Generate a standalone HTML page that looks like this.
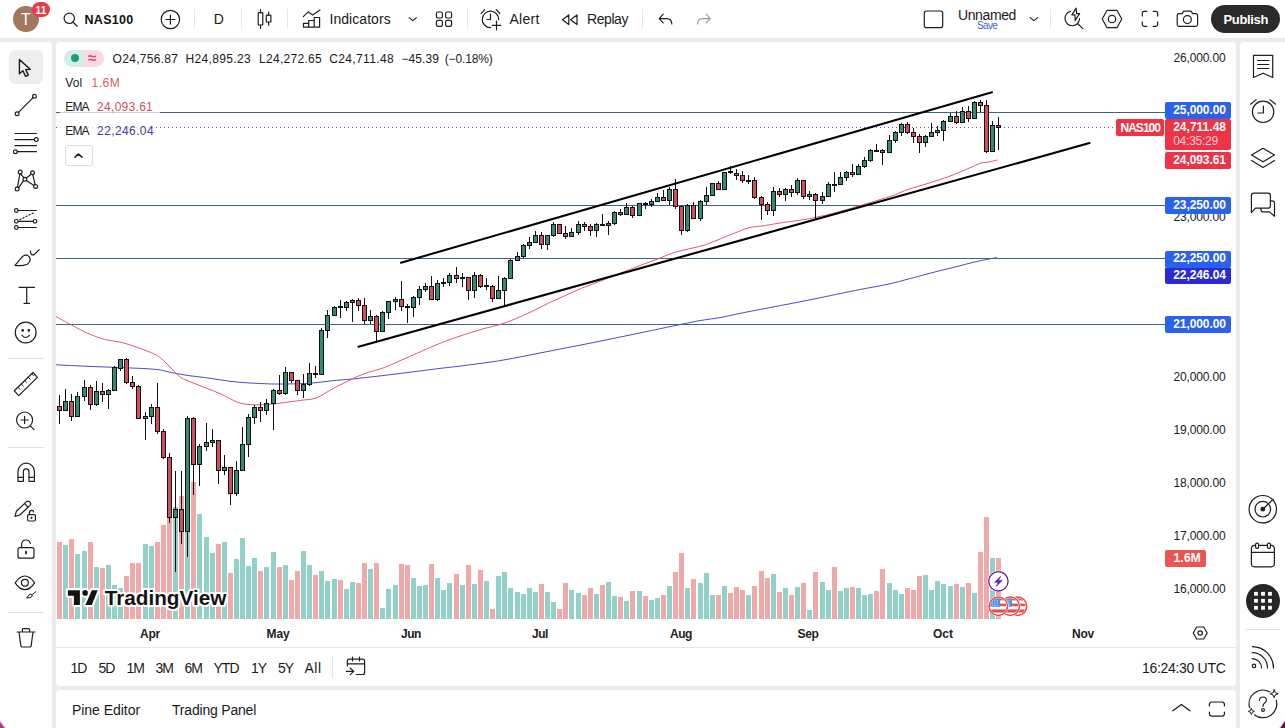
<!DOCTYPE html>
<html><head><meta charset="utf-8"><title>NAS100</title>
<style>
*{box-sizing:border-box;margin:0;padding:0}
html,body{width:1285px;height:728px;overflow:hidden;background:#ebebeb;font-family:"Liberation Sans",sans-serif;color:#131722}
.p{position:absolute;background:#fff}
.t{position:absolute;white-space:nowrap;line-height:1}
svg{position:absolute;left:0;top:0;overflow:visible}
.ic{fill:none;stroke:#1e1e1e;stroke-width:1.2;stroke-linecap:round;stroke-linejoin:round}
.sep{position:absolute;width:1px;background:#e6e6e6}
.hsep{position:absolute;height:1px;background:#e0e0e0}
.ax{font-size:12px;color:#1a1a1a}
.lb{position:absolute;z-index:2;color:#fff;font-size:12px;font-weight:bold;border-radius:2px;left:1165px;width:66px;padding-left:8px;white-space:nowrap}
</style></head><body>
<!-- panels -->
<div class="p" style="left:0;top:0;width:1285px;height:38px"></div>
<div class="p" style="left:0;top:42px;width:52px;height:686px;border-top-right-radius:4px"></div>
<div class="p" style="left:56px;top:42px;width:1180.4px;height:644px;border-radius:4px"></div>
<div class="p" style="left:56px;top:690.3px;width:1180.4px;height:38px;border-radius:4px 4px 0 0"></div>
<div class="p" style="left:1240.4px;top:42px;width:45px;height:686px;border-top-left-radius:4px"></div>

<!-- CHART SVG -->
<svg width="1285" height="728" viewBox="0 0 1285 728" shape-rendering="auto">
<g shape-rendering="crispEdges">
<rect x="57" y="542.0" width="5" height="77.0" fill="#f0a9a9"/>
<rect x="63" y="545.0" width="5" height="74.0" fill="#92d0ca"/>
<rect x="69" y="539.1" width="5" height="79.9" fill="#f0a9a9"/>
<rect x="75" y="554.1" width="5" height="64.9" fill="#92d0ca"/>
<rect x="82" y="551.1" width="5" height="67.9" fill="#92d0ca"/>
<rect x="88" y="542.0" width="5" height="77.0" fill="#f0a9a9"/>
<rect x="94" y="567.3" width="5" height="51.7" fill="#92d0ca"/>
<rect x="100" y="568.1" width="5" height="50.9" fill="#f0a9a9"/>
<rect x="106" y="565.1" width="5" height="53.9" fill="#92d0ca"/>
<rect x="112" y="585.2" width="5" height="33.8" fill="#92d0ca"/>
<rect x="118" y="588.2" width="5" height="30.8" fill="#92d0ca"/>
<rect x="124" y="576.2" width="5" height="42.8" fill="#f0a9a9"/>
<rect x="130" y="563.1" width="5" height="55.9" fill="#f0a9a9"/>
<rect x="136" y="563.1" width="5" height="55.9" fill="#f0a9a9"/>
<rect x="143" y="544.2" width="5" height="74.8" fill="#92d0ca"/>
<rect x="149" y="546.2" width="5" height="72.8" fill="#92d0ca"/>
<rect x="155" y="542.0" width="5" height="77.0" fill="#f0a9a9"/>
<rect x="161" y="525.1" width="5" height="93.9" fill="#f0a9a9"/>
<rect x="167" y="505.0" width="5" height="114.0" fill="#f0a9a9"/>
<rect x="173" y="507.0" width="5" height="112.0" fill="#92d0ca"/>
<rect x="179" y="496.0" width="5" height="123.0" fill="#f0a9a9"/>
<rect x="185" y="510.0" width="5" height="109.0" fill="#92d0ca"/>
<rect x="191" y="482.0" width="5" height="137.0" fill="#f0a9a9"/>
<rect x="197" y="514.3" width="5" height="104.7" fill="#92d0ca"/>
<rect x="204" y="537.4" width="5" height="81.6" fill="#92d0ca"/>
<rect x="210" y="553.1" width="5" height="65.9" fill="#92d0ca"/>
<rect x="216" y="544.2" width="5" height="74.8" fill="#f0a9a9"/>
<rect x="222" y="542.0" width="5" height="77.0" fill="#92d0ca"/>
<rect x="228" y="573.0" width="5" height="46.0" fill="#f0a9a9"/>
<rect x="234" y="559.0" width="5" height="60.0" fill="#92d0ca"/>
<rect x="240" y="538.3" width="5" height="80.7" fill="#92d0ca"/>
<rect x="246" y="566.0" width="5" height="53.0" fill="#92d0ca"/>
<rect x="252" y="558.0" width="5" height="61.0" fill="#92d0ca"/>
<rect x="258" y="570.9" width="5" height="48.1" fill="#f0a9a9"/>
<rect x="264" y="566.9" width="5" height="52.1" fill="#92d0ca"/>
<rect x="271" y="552.2" width="5" height="66.8" fill="#92d0ca"/>
<rect x="277" y="566.9" width="5" height="52.1" fill="#f0a9a9"/>
<rect x="283" y="565.0" width="5" height="54.0" fill="#92d0ca"/>
<rect x="289" y="579.7" width="5" height="39.3" fill="#f0a9a9"/>
<rect x="295" y="570.9" width="5" height="48.1" fill="#f0a9a9"/>
<rect x="301" y="551.0" width="5" height="68.0" fill="#92d0ca"/>
<rect x="307" y="565.0" width="5" height="54.0" fill="#92d0ca"/>
<rect x="313" y="575.1" width="5" height="43.9" fill="#f0a9a9"/>
<rect x="319" y="570.9" width="5" height="48.1" fill="#92d0ca"/>
<rect x="325" y="580.9" width="5" height="38.1" fill="#92d0ca"/>
<rect x="332" y="579.0" width="5" height="40.0" fill="#92d0ca"/>
<rect x="338" y="579.7" width="5" height="39.3" fill="#f0a9a9"/>
<rect x="344" y="588.8" width="5" height="30.2" fill="#92d0ca"/>
<rect x="350" y="581.8" width="5" height="37.2" fill="#92d0ca"/>
<rect x="356" y="583.0" width="5" height="36.0" fill="#f0a9a9"/>
<rect x="362" y="563.2" width="5" height="55.8" fill="#f0a9a9"/>
<rect x="368" y="569.0" width="5" height="50.0" fill="#92d0ca"/>
<rect x="374" y="563.2" width="5" height="55.8" fill="#f0a9a9"/>
<rect x="380" y="608.2" width="5" height="10.8" fill="#92d0ca"/>
<rect x="386" y="588.8" width="5" height="30.2" fill="#92d0ca"/>
<rect x="393" y="584.9" width="5" height="34.1" fill="#92d0ca"/>
<rect x="399" y="564.3" width="5" height="54.7" fill="#f0a9a9"/>
<rect x="405" y="565.0" width="5" height="54.0" fill="#f0a9a9"/>
<rect x="411" y="577.9" width="5" height="41.1" fill="#92d0ca"/>
<rect x="417" y="586.0" width="5" height="33.0" fill="#92d0ca"/>
<rect x="423" y="584.9" width="5" height="34.1" fill="#92d0ca"/>
<rect x="429" y="564.3" width="5" height="54.7" fill="#f0a9a9"/>
<rect x="435" y="577.9" width="5" height="41.1" fill="#92d0ca"/>
<rect x="441" y="590.0" width="5" height="29.0" fill="#92d0ca"/>
<rect x="447" y="583.0" width="5" height="36.0" fill="#92d0ca"/>
<rect x="454" y="573.9" width="5" height="45.1" fill="#f0a9a9"/>
<rect x="460" y="584.9" width="5" height="34.1" fill="#92d0ca"/>
<rect x="466" y="565.0" width="5" height="54.0" fill="#f0a9a9"/>
<rect x="472" y="584.2" width="5" height="34.8" fill="#92d0ca"/>
<rect x="478" y="570.2" width="5" height="48.8" fill="#f0a9a9"/>
<rect x="484" y="580.9" width="5" height="38.1" fill="#92d0ca"/>
<rect x="490" y="608.9" width="5" height="10.1" fill="#f0a9a9"/>
<rect x="496" y="576.0" width="5" height="43.0" fill="#92d0ca"/>
<rect x="502" y="572.0" width="5" height="47.0" fill="#92d0ca"/>
<rect x="508" y="587.9" width="5" height="31.1" fill="#92d0ca"/>
<rect x="515" y="591.9" width="5" height="27.1" fill="#92d0ca"/>
<rect x="521" y="593.7" width="5" height="25.3" fill="#92d0ca"/>
<rect x="527" y="587.9" width="5" height="31.1" fill="#92d0ca"/>
<rect x="533" y="591.9" width="5" height="27.1" fill="#92d0ca"/>
<rect x="539" y="584.2" width="5" height="34.8" fill="#f0a9a9"/>
<rect x="545" y="591.9" width="5" height="27.1" fill="#92d0ca"/>
<rect x="551" y="601.9" width="5" height="17.1" fill="#92d0ca"/>
<rect x="557" y="608.9" width="5" height="10.1" fill="#f0a9a9"/>
<rect x="563" y="583.0" width="5" height="36.0" fill="#f0a9a9"/>
<rect x="569" y="590.0" width="5" height="29.0" fill="#92d0ca"/>
<rect x="576" y="593.0" width="5" height="26.0" fill="#92d0ca"/>
<rect x="582" y="594.9" width="5" height="24.1" fill="#f0a9a9"/>
<rect x="588" y="587.9" width="5" height="31.1" fill="#f0a9a9"/>
<rect x="594" y="593.7" width="5" height="25.3" fill="#92d0ca"/>
<rect x="600" y="584.9" width="5" height="34.1" fill="#f0a9a9"/>
<rect x="606" y="581.8" width="5" height="37.2" fill="#92d0ca"/>
<rect x="612" y="596.1" width="5" height="22.9" fill="#92d0ca"/>
<rect x="618" y="597.0" width="5" height="22.0" fill="#f0a9a9"/>
<rect x="624" y="600.7" width="5" height="18.3" fill="#92d0ca"/>
<rect x="630" y="590.9" width="5" height="28.1" fill="#f0a9a9"/>
<rect x="637" y="590.9" width="5" height="28.1" fill="#92d0ca"/>
<rect x="643" y="596.1" width="5" height="22.9" fill="#f0a9a9"/>
<rect x="649" y="599.8" width="5" height="19.2" fill="#92d0ca"/>
<rect x="655" y="597.9" width="5" height="21.1" fill="#92d0ca"/>
<rect x="661" y="594.9" width="5" height="24.1" fill="#f0a9a9"/>
<rect x="667" y="586.0" width="5" height="33.0" fill="#92d0ca"/>
<rect x="673" y="572.0" width="5" height="47.0" fill="#f0a9a9"/>
<rect x="679" y="552.9" width="5" height="66.1" fill="#f0a9a9"/>
<rect x="685" y="587.9" width="5" height="31.1" fill="#92d0ca"/>
<rect x="691" y="579.0" width="5" height="40.0" fill="#f0a9a9"/>
<rect x="698" y="583.0" width="5" height="36.0" fill="#92d0ca"/>
<rect x="704" y="573.0" width="5" height="46.0" fill="#92d0ca"/>
<rect x="710" y="594.9" width="5" height="24.1" fill="#92d0ca"/>
<rect x="716" y="594.9" width="5" height="24.1" fill="#f0a9a9"/>
<rect x="722" y="586.0" width="5" height="33.0" fill="#92d0ca"/>
<rect x="728" y="593.0" width="5" height="26.0" fill="#f0a9a9"/>
<rect x="734" y="587.0" width="5" height="32.0" fill="#f0a9a9"/>
<rect x="740" y="590.0" width="5" height="29.0" fill="#f0a9a9"/>
<rect x="746" y="594.9" width="5" height="24.1" fill="#92d0ca"/>
<rect x="752" y="586.0" width="5" height="33.0" fill="#f0a9a9"/>
<rect x="759" y="570.9" width="5" height="48.1" fill="#f0a9a9"/>
<rect x="765" y="577.9" width="5" height="41.1" fill="#f0a9a9"/>
<rect x="771" y="573.9" width="5" height="45.1" fill="#92d0ca"/>
<rect x="777" y="591.9" width="5" height="27.1" fill="#f0a9a9"/>
<rect x="783" y="587.9" width="5" height="31.1" fill="#92d0ca"/>
<rect x="789" y="594.9" width="5" height="24.1" fill="#f0a9a9"/>
<rect x="795" y="587.0" width="5" height="32.0" fill="#92d0ca"/>
<rect x="801" y="583.0" width="5" height="36.0" fill="#f0a9a9"/>
<rect x="807" y="609.9" width="5" height="9.1" fill="#92d0ca"/>
<rect x="813" y="572.0" width="5" height="47.0" fill="#f0a9a9"/>
<rect x="820" y="581.8" width="5" height="37.2" fill="#92d0ca"/>
<rect x="826" y="590.0" width="5" height="29.0" fill="#92d0ca"/>
<rect x="832" y="567.0" width="5" height="52.0" fill="#f0a9a9"/>
<rect x="838" y="590.9" width="5" height="28.1" fill="#92d0ca"/>
<rect x="844" y="588.1" width="5" height="30.9" fill="#92d0ca"/>
<rect x="850" y="587.2" width="5" height="31.8" fill="#f0a9a9"/>
<rect x="856" y="588.1" width="5" height="30.9" fill="#92d0ca"/>
<rect x="862" y="595.0" width="5" height="24.0" fill="#92d0ca"/>
<rect x="868" y="594.1" width="5" height="24.9" fill="#92d0ca"/>
<rect x="874" y="590.9" width="5" height="28.1" fill="#f0a9a9"/>
<rect x="880" y="569.1" width="5" height="49.9" fill="#f0a9a9"/>
<rect x="887" y="583.1" width="5" height="35.9" fill="#92d0ca"/>
<rect x="893" y="590.0" width="5" height="29.0" fill="#92d0ca"/>
<rect x="899" y="594.1" width="5" height="24.9" fill="#92d0ca"/>
<rect x="905" y="588.1" width="5" height="30.9" fill="#f0a9a9"/>
<rect x="911" y="590.0" width="5" height="29.0" fill="#f0a9a9"/>
<rect x="917" y="576.0" width="5" height="43.0" fill="#f0a9a9"/>
<rect x="923" y="575.0" width="5" height="44.0" fill="#92d0ca"/>
<rect x="929" y="590.0" width="5" height="29.0" fill="#92d0ca"/>
<rect x="935" y="581.0" width="5" height="38.0" fill="#92d0ca"/>
<rect x="941" y="584.0" width="5" height="35.0" fill="#92d0ca"/>
<rect x="948" y="585.9" width="5" height="33.1" fill="#92d0ca"/>
<rect x="954" y="584.0" width="5" height="35.0" fill="#f0a9a9"/>
<rect x="960" y="586.8" width="5" height="32.2" fill="#92d0ca"/>
<rect x="966" y="583.1" width="5" height="35.9" fill="#f0a9a9"/>
<rect x="972" y="593.0" width="5" height="26.0" fill="#92d0ca"/>
<rect x="978" y="552.1" width="5" height="66.9" fill="#f0a9a9"/>
<rect x="984" y="517.1" width="5" height="101.9" fill="#f0a9a9"/>
<rect x="990" y="558.2" width="5" height="60.8" fill="#92d0ca"/>
<rect x="996" y="558.2" width="5" height="60.8" fill="#f0a9a9"/>
</g>
<!-- horizontal lines -->
<g stroke="#3f6287" stroke-width="1" shape-rendering="crispEdges">
<path d="M56 112.5H1165"/><path d="M56 205.5H1165"/><path d="M56 258.5H1165"/><path d="M56 324.5H1165"/>
</g>
<path d="M56 127.5H1116" stroke="#b5443a" stroke-width="1" stroke-dasharray="1 3" shape-rendering="crispEdges"/>
<path d="M56.0 364.8C61.5 365.1 78.0 365.9 89.0 366.4C100.0 366.9 111.0 367.1 122.0 367.6C133.0 368.1 146.8 368.5 155.0 369.3C163.2 370.1 165.9 371.5 171.4 372.5C176.9 373.5 182.5 374.7 188.0 375.5C193.5 376.3 198.9 376.8 204.4 377.5C209.9 378.2 215.5 379.2 221.0 380.0C226.5 380.8 231.6 381.6 237.4 382.1C243.2 382.7 249.8 383.0 256.0 383.3C262.2 383.6 267.4 383.9 274.7 384.0C281.9 384.1 292.6 383.9 299.5 383.7C306.4 383.5 310.5 383.2 316.0 382.7C321.5 382.2 326.4 381.3 332.4 380.7C338.4 380.1 343.9 379.8 352.2 379.0C360.4 378.2 371.4 376.9 381.9 375.7C392.3 374.5 405.2 372.8 414.9 371.6C424.6 370.4 430.8 369.5 440.0 368.4C449.2 367.3 460.3 366.1 470.0 364.8C479.7 363.6 488.9 362.4 498.4 360.9C507.9 359.4 517.3 357.5 527.0 355.6C536.7 353.7 546.9 351.6 556.7 349.7C566.5 347.8 576.3 345.9 586.0 344.0C595.7 342.1 605.4 340.1 615.1 338.1C624.8 336.1 634.3 334.1 644.0 332.1C653.7 330.1 664.2 327.8 673.5 325.9C682.8 324.0 692.2 322.0 700.0 320.6C707.8 319.2 713.3 318.8 720.0 317.6C726.7 316.4 732.2 315.0 740.0 313.4C747.8 311.8 757.9 309.9 766.7 308.2C775.5 306.5 784.0 304.9 793.0 303.2C802.0 301.4 812.6 299.3 820.4 297.7C828.2 296.1 833.4 295.0 840.0 293.6C846.6 292.2 852.1 291.1 860.1 289.5C868.1 287.9 879.8 286.0 888.1 284.2C896.4 282.4 903.0 280.4 910.0 278.6C917.0 276.8 922.9 275.1 930.1 273.2C937.3 271.3 945.2 269.4 953.0 267.5C960.8 265.6 969.5 263.1 976.8 261.5C984.1 259.9 993.4 258.2 996.7 257.6" fill="none" stroke="#4f49c4" stroke-width="1"/>
<path d="M56.0 316.5C58.5 317.9 65.3 321.8 70.8 324.7C76.3 327.6 83.2 331.3 89.0 333.8C94.8 336.3 100.0 338.2 105.5 339.6C111.0 341.1 116.5 341.1 122.0 342.5C127.5 343.9 132.9 345.8 138.4 347.8C143.9 349.8 150.9 352.3 155.0 354.4C159.1 356.5 160.5 357.9 163.2 360.2C165.9 362.5 168.7 365.6 171.4 368.4C174.2 371.1 176.9 374.6 179.7 376.7C182.4 378.8 183.8 379.0 187.9 380.8C192.0 382.6 198.9 385.2 204.4 387.4C209.9 389.6 215.4 391.5 220.9 394.0C226.4 396.5 232.6 400.4 237.4 402.2C242.2 404.0 245.9 404.2 250.0 404.6C254.1 405.0 257.9 404.9 262.0 404.8C266.1 404.7 268.4 404.5 274.7 403.8C280.9 403.1 292.6 401.5 299.5 400.5C306.4 399.5 310.5 399.9 316.0 398.0C321.5 396.1 326.4 392.1 332.4 388.9C338.4 385.7 346.7 381.6 352.2 379.0C357.7 376.4 360.0 375.2 365.4 373.3C370.8 371.4 378.5 369.7 384.5 367.5C390.5 365.3 396.2 362.4 401.5 360.1C406.8 357.8 411.5 355.7 416.5 353.5C421.5 351.3 425.8 349.2 431.4 346.9C437.0 344.6 442.1 342.3 450.0 339.5C457.9 336.7 470.4 332.6 479.1 330.0C487.8 327.4 496.1 325.7 502.2 323.8C508.2 321.9 510.4 320.9 515.4 318.8C520.4 316.7 526.4 314.0 531.9 311.4C537.4 308.8 542.9 305.8 548.4 303.2C553.9 300.6 559.4 298.2 564.9 295.7C570.4 293.2 575.5 290.7 581.4 288.3C587.2 285.9 592.0 284.3 600.0 281.2C608.0 278.1 620.3 273.1 629.6 269.5C638.9 265.9 648.9 262.3 656.0 259.6C663.1 256.9 666.9 254.9 672.4 253.1C677.9 251.3 683.4 250.3 688.9 248.9C694.4 247.5 699.9 246.6 705.4 244.8C710.9 243.0 716.4 240.4 721.9 238.2C727.4 236.0 733.7 233.4 738.4 231.6C743.1 229.8 745.9 228.5 750.0 227.5C754.1 226.5 758.1 226.6 763.1 225.8C768.1 225.1 771.7 224.3 780.0 223.0C788.3 221.7 802.0 220.2 813.0 218.0C824.0 215.8 835.0 212.8 846.0 209.8C857.0 206.8 870.8 202.4 879.0 199.9C887.2 197.4 890.6 196.3 895.4 194.6C900.2 192.8 902.4 191.3 908.0 189.4C913.6 187.5 922.0 185.3 929.0 183.1C936.0 180.9 943.0 178.7 950.0 176.1C957.0 173.5 965.8 169.5 971.0 167.3C976.2 165.1 978.3 163.8 981.0 163.0C983.7 162.2 984.2 162.8 987.0 162.3C989.8 161.8 995.8 160.4 997.5 160.0" fill="none" stroke="#dc5c6b" stroke-width="1"/>
<g shape-rendering="crispEdges">
<path d="M59.5 395.3V423.6" stroke="#111" stroke-width="1"/>
<rect x="57.5" y="406.5" width="4" height="3.9" fill="#cf505d" stroke="#111" stroke-width="1"/>
<path d="M65.5 389.0V410.2" stroke="#111" stroke-width="1"/>
<rect x="63.5" y="401.5" width="4" height="8.7" fill="#378a72" stroke="#111" stroke-width="1"/>
<path d="M71.5 394.3V421.4" stroke="#111" stroke-width="1"/>
<rect x="69.5" y="401.5" width="4" height="14.7" fill="#cf505d" stroke="#111" stroke-width="1"/>
<path d="M77.5 392.3V416.2" stroke="#111" stroke-width="1"/>
<rect x="75.5" y="396.1" width="4" height="20.1" fill="#378a72" stroke="#111" stroke-width="1"/>
<path d="M84.5 380.3V401.4" stroke="#111" stroke-width="1"/>
<rect x="82.5" y="387.4" width="4" height="9.1" fill="#378a72" stroke="#111" stroke-width="1"/>
<path d="M90.5 385.4V409.6" stroke="#111" stroke-width="1"/>
<rect x="88.5" y="387.4" width="4" height="16.9" fill="#cf505d" stroke="#111" stroke-width="1"/>
<path d="M96.5 381.3V405.5" stroke="#111" stroke-width="1"/>
<rect x="94.5" y="391.2" width="4" height="13.1" fill="#378a72" stroke="#111" stroke-width="1"/>
<path d="M102.5 383.3V401.7" stroke="#111" stroke-width="1"/>
<rect x="100.5" y="391.2" width="4" height="3.3" fill="#cf505d" stroke="#111" stroke-width="1"/>
<path d="M108.5 389.0V408.7" stroke="#111" stroke-width="1"/>
<rect x="106.5" y="390.2" width="4" height="4.3" fill="#378a72" stroke="#111" stroke-width="1"/>
<path d="M114.5 366.3V390.4" stroke="#111" stroke-width="1"/>
<rect x="112.5" y="367.6" width="4" height="22.8" fill="#378a72" stroke="#111" stroke-width="1"/>
<path d="M120.5 359.4V370.6" stroke="#111" stroke-width="1"/>
<rect x="118.5" y="359.4" width="4" height="8.7" fill="#378a72" stroke="#111" stroke-width="1"/>
<path d="M126.5 358.2V383.6" stroke="#111" stroke-width="1"/>
<rect x="124.5" y="359.4" width="4" height="23.0" fill="#cf505d" stroke="#111" stroke-width="1"/>
<path d="M132.5 376.2V388.7" stroke="#111" stroke-width="1"/>
<rect x="130.5" y="382.4" width="4" height="4.2" fill="#cf505d" stroke="#111" stroke-width="1"/>
<path d="M138.5 385.4V418.2" stroke="#111" stroke-width="1"/>
<rect x="136.5" y="386.2" width="4" height="32.0" fill="#cf505d" stroke="#111" stroke-width="1"/>
<path d="M145.5 412.3V439.6" stroke="#111" stroke-width="1"/>
<rect x="143.5" y="416.6" width="4" height="1.6" fill="#378a72" stroke="#111" stroke-width="1"/>
<path d="M151.5 404.2V423.6" stroke="#111" stroke-width="1"/>
<rect x="149.5" y="407.3" width="4" height="9.3" fill="#378a72" stroke="#111" stroke-width="1"/>
<path d="M157.5 383.3V433.5" stroke="#111" stroke-width="1"/>
<rect x="155.5" y="407.3" width="4" height="24.0" fill="#cf505d" stroke="#111" stroke-width="1"/>
<path d="M163.5 429.3V458.5" stroke="#111" stroke-width="1"/>
<rect x="161.5" y="431.3" width="4" height="26.3" fill="#cf505d" stroke="#111" stroke-width="1"/>
<path d="M169.5 453.1V522.6" stroke="#111" stroke-width="1"/>
<rect x="167.5" y="457.6" width="4" height="59.6" fill="#cf505d" stroke="#111" stroke-width="1"/>
<path d="M175.5 471.2V571.7" stroke="#111" stroke-width="1"/>
<rect x="173.5" y="509.1" width="4" height="8.1" fill="#378a72" stroke="#111" stroke-width="1"/>
<path d="M181.5 471.2V543.7" stroke="#111" stroke-width="1"/>
<rect x="179.5" y="509.1" width="4" height="22.2" fill="#cf505d" stroke="#111" stroke-width="1"/>
<path d="M187.5 416.2V556.9" stroke="#111" stroke-width="1"/>
<rect x="185.5" y="418.1" width="4" height="113.2" fill="#378a72" stroke="#111" stroke-width="1"/>
<path d="M193.5 416.5V494.8" stroke="#111" stroke-width="1"/>
<rect x="191.5" y="418.1" width="4" height="46.2" fill="#cf505d" stroke="#111" stroke-width="1"/>
<path d="M199.5 444.2V485.7" stroke="#111" stroke-width="1"/>
<rect x="197.5" y="446.2" width="4" height="18.1" fill="#378a72" stroke="#111" stroke-width="1"/>
<path d="M206.5 423.1V450.8" stroke="#111" stroke-width="1"/>
<rect x="204.5" y="442.5" width="4" height="4.2" fill="#378a72" stroke="#111" stroke-width="1"/>
<path d="M212.5 428.9V446.7" stroke="#111" stroke-width="1"/>
<rect x="210.5" y="440.1" width="4" height="2.4" fill="#378a72" stroke="#111" stroke-width="1"/>
<path d="M218.5 440.4V483.8" stroke="#111" stroke-width="1"/>
<rect x="216.5" y="440.4" width="4" height="30.2" fill="#cf505d" stroke="#111" stroke-width="1"/>
<path d="M224.5 455.2V474.7" stroke="#111" stroke-width="1"/>
<rect x="222.5" y="467.3" width="4" height="3.3" fill="#378a72" stroke="#111" stroke-width="1"/>
<path d="M230.5 467.3V504.8" stroke="#111" stroke-width="1"/>
<rect x="228.5" y="467.3" width="4" height="26.4" fill="#cf505d" stroke="#111" stroke-width="1"/>
<path d="M236.5 461.0V495.6" stroke="#111" stroke-width="1"/>
<rect x="234.5" y="470.6" width="4" height="23.1" fill="#378a72" stroke="#111" stroke-width="1"/>
<path d="M242.5 427.2V470.6" stroke="#111" stroke-width="1"/>
<rect x="240.5" y="444.2" width="4" height="26.4" fill="#378a72" stroke="#111" stroke-width="1"/>
<path d="M248.5 414.0V456.9" stroke="#111" stroke-width="1"/>
<rect x="246.5" y="417.3" width="4" height="27.1" fill="#378a72" stroke="#111" stroke-width="1"/>
<path d="M254.5 405.0V423.7" stroke="#111" stroke-width="1"/>
<rect x="252.5" y="407.4" width="4" height="10.1" fill="#378a72" stroke="#111" stroke-width="1"/>
<path d="M260.5 402.3V421.8" stroke="#111" stroke-width="1"/>
<rect x="258.5" y="407.5" width="4" height="3.1" fill="#cf505d" stroke="#111" stroke-width="1"/>
<path d="M266.5 399.2V414.8" stroke="#111" stroke-width="1"/>
<rect x="264.5" y="403.2" width="4" height="7.4" fill="#378a72" stroke="#111" stroke-width="1"/>
<path d="M273.5 389.0V429.8" stroke="#111" stroke-width="1"/>
<rect x="271.5" y="390.1" width="4" height="13.6" fill="#378a72" stroke="#111" stroke-width="1"/>
<path d="M279.5 375.2V394.7" stroke="#111" stroke-width="1"/>
<rect x="277.5" y="390.5" width="4" height="3.1" fill="#cf505d" stroke="#111" stroke-width="1"/>
<path d="M285.5 367.2V394.7" stroke="#111" stroke-width="1"/>
<rect x="283.5" y="372.4" width="4" height="21.1" fill="#378a72" stroke="#111" stroke-width="1"/>
<path d="M291.5 372.4V383.4" stroke="#111" stroke-width="1"/>
<rect x="289.5" y="372.4" width="4" height="8.0" fill="#cf505d" stroke="#111" stroke-width="1"/>
<path d="M297.5 380.4V394.5" stroke="#111" stroke-width="1"/>
<rect x="295.5" y="380.4" width="4" height="9.9" fill="#cf505d" stroke="#111" stroke-width="1"/>
<path d="M303.5 374.1V397.7" stroke="#111" stroke-width="1"/>
<rect x="301.5" y="384.5" width="4" height="5.8" fill="#378a72" stroke="#111" stroke-width="1"/>
<path d="M309.5 363.0V385.6" stroke="#111" stroke-width="1"/>
<rect x="307.5" y="373.5" width="4" height="11.0" fill="#378a72" stroke="#111" stroke-width="1"/>
<path d="M315.5 366.2V377.7" stroke="#111" stroke-width="1"/>
<rect x="313.5" y="373.6" width="4" height="1.0" fill="#111" stroke="#111" stroke-width="1"/>
<path d="M321.5 328.3V374.4" stroke="#111" stroke-width="1"/>
<rect x="319.5" y="330.4" width="4" height="44.0" fill="#378a72" stroke="#111" stroke-width="1"/>
<path d="M327.5 310.1V337.8" stroke="#111" stroke-width="1"/>
<rect x="325.5" y="315.2" width="4" height="15.2" fill="#378a72" stroke="#111" stroke-width="1"/>
<path d="M334.5 306.2V315.2" stroke="#111" stroke-width="1"/>
<rect x="332.5" y="307.3" width="4" height="7.9" fill="#378a72" stroke="#111" stroke-width="1"/>
<path d="M340.5 300.2V317.7" stroke="#111" stroke-width="1"/>
<rect x="338.5" y="306.8" width="4" height="1.0" fill="#111" stroke="#111" stroke-width="1"/>
<path d="M346.5 301.2V310.6" stroke="#111" stroke-width="1"/>
<rect x="344.5" y="302.4" width="4" height="4.9" fill="#378a72" stroke="#111" stroke-width="1"/>
<path d="M352.5 299.1V321.8" stroke="#111" stroke-width="1"/>
<rect x="350.5" y="300.2" width="4" height="2.2" fill="#378a72" stroke="#111" stroke-width="1"/>
<path d="M358.5 297.9V311.4" stroke="#111" stroke-width="1"/>
<rect x="356.5" y="300.2" width="4" height="5.5" fill="#cf505d" stroke="#111" stroke-width="1"/>
<path d="M364.5 297.9V323.8" stroke="#111" stroke-width="1"/>
<rect x="362.5" y="305.3" width="4" height="15.2" fill="#cf505d" stroke="#111" stroke-width="1"/>
<path d="M370.5 310.1V324.3" stroke="#111" stroke-width="1"/>
<rect x="368.5" y="316.4" width="4" height="4.1" fill="#378a72" stroke="#111" stroke-width="1"/>
<path d="M376.5 315.1V341.1" stroke="#111" stroke-width="1"/>
<rect x="374.5" y="316.4" width="4" height="14.8" fill="#cf505d" stroke="#111" stroke-width="1"/>
<path d="M382.5 311.1V331.2" stroke="#111" stroke-width="1"/>
<rect x="380.5" y="312.3" width="4" height="18.9" fill="#378a72" stroke="#111" stroke-width="1"/>
<path d="M388.5 301.5V318.9" stroke="#111" stroke-width="1"/>
<rect x="386.5" y="301.5" width="4" height="10.8" fill="#378a72" stroke="#111" stroke-width="1"/>
<path d="M395.5 297.4V309.8" stroke="#111" stroke-width="1"/>
<rect x="393.5" y="299.6" width="4" height="1.9" fill="#378a72" stroke="#111" stroke-width="1"/>
<path d="M401.5 281.2V310.6" stroke="#111" stroke-width="1"/>
<rect x="399.5" y="299.5" width="4" height="7.0" fill="#cf505d" stroke="#111" stroke-width="1"/>
<path d="M407.5 304.0V322.6" stroke="#111" stroke-width="1"/>
<rect x="405.5" y="306.1" width="4" height="1.2" fill="#111" stroke="#111" stroke-width="1"/>
<path d="M413.5 296.1V316.8" stroke="#111" stroke-width="1"/>
<rect x="411.5" y="297.3" width="4" height="10.2" fill="#378a72" stroke="#111" stroke-width="1"/>
<path d="M419.5 286.2V304.8" stroke="#111" stroke-width="1"/>
<rect x="417.5" y="289.5" width="4" height="7.9" fill="#378a72" stroke="#111" stroke-width="1"/>
<path d="M425.5 283.4V291.6" stroke="#111" stroke-width="1"/>
<rect x="423.5" y="286.2" width="4" height="3.4" fill="#378a72" stroke="#111" stroke-width="1"/>
<path d="M431.5 276.0V299.5" stroke="#111" stroke-width="1"/>
<rect x="429.5" y="286.2" width="4" height="13.3" fill="#cf505d" stroke="#111" stroke-width="1"/>
<path d="M437.5 280.4V300.7" stroke="#111" stroke-width="1"/>
<rect x="435.5" y="283.4" width="4" height="16.1" fill="#378a72" stroke="#111" stroke-width="1"/>
<path d="M443.5 278.4V286.7" stroke="#111" stroke-width="1"/>
<rect x="441.5" y="282.2" width="4" height="1.2" fill="#111" stroke="#111" stroke-width="1"/>
<path d="M449.5 273.1V285.8" stroke="#111" stroke-width="1"/>
<rect x="447.5" y="275.5" width="4" height="7.0" fill="#378a72" stroke="#111" stroke-width="1"/>
<path d="M456.5 267.2V282.5" stroke="#111" stroke-width="1"/>
<rect x="454.5" y="275.5" width="4" height="2.9" fill="#cf505d" stroke="#111" stroke-width="1"/>
<path d="M462.5 273.1V286.7" stroke="#111" stroke-width="1"/>
<rect x="460.5" y="277.3" width="4" height="1.0" fill="#111" stroke="#111" stroke-width="1"/>
<path d="M468.5 277.3V299.9" stroke="#111" stroke-width="1"/>
<rect x="466.5" y="277.3" width="4" height="13.2" fill="#cf505d" stroke="#111" stroke-width="1"/>
<path d="M474.5 272.3V297.7" stroke="#111" stroke-width="1"/>
<rect x="472.5" y="275.5" width="4" height="15.0" fill="#378a72" stroke="#111" stroke-width="1"/>
<path d="M480.5 274.3V287.5" stroke="#111" stroke-width="1"/>
<rect x="478.5" y="275.5" width="4" height="11.2" fill="#cf505d" stroke="#111" stroke-width="1"/>
<path d="M486.5 277.9V289.6" stroke="#111" stroke-width="1"/>
<rect x="484.5" y="285.8" width="4" height="1.0" fill="#111" stroke="#111" stroke-width="1"/>
<path d="M492.5 285.0V301.8" stroke="#111" stroke-width="1"/>
<rect x="490.5" y="286.2" width="4" height="12.5" fill="#cf505d" stroke="#111" stroke-width="1"/>
<path d="M498.5 276.4V298.7" stroke="#111" stroke-width="1"/>
<rect x="496.5" y="290.5" width="4" height="8.2" fill="#378a72" stroke="#111" stroke-width="1"/>
<path d="M504.5 277.3V305.1" stroke="#111" stroke-width="1"/>
<rect x="502.5" y="278.4" width="4" height="12.1" fill="#378a72" stroke="#111" stroke-width="1"/>
<path d="M510.5 258.6V278.4" stroke="#111" stroke-width="1"/>
<rect x="508.5" y="260.3" width="4" height="18.1" fill="#378a72" stroke="#111" stroke-width="1"/>
<path d="M517.5 252.4V260.3" stroke="#111" stroke-width="1"/>
<rect x="515.5" y="256.7" width="4" height="3.6" fill="#378a72" stroke="#111" stroke-width="1"/>
<path d="M523.5 244.3V257.8" stroke="#111" stroke-width="1"/>
<rect x="521.5" y="245.1" width="4" height="11.6" fill="#378a72" stroke="#111" stroke-width="1"/>
<path d="M529.5 237.2V248.7" stroke="#111" stroke-width="1"/>
<rect x="527.5" y="242.5" width="4" height="2.9" fill="#378a72" stroke="#111" stroke-width="1"/>
<path d="M535.5 231.4V242.5" stroke="#111" stroke-width="1"/>
<rect x="533.5" y="235.2" width="4" height="7.3" fill="#378a72" stroke="#111" stroke-width="1"/>
<path d="M541.5 232.3V248.7" stroke="#111" stroke-width="1"/>
<rect x="539.5" y="235.2" width="4" height="9.4" fill="#cf505d" stroke="#111" stroke-width="1"/>
<path d="M547.5 235.2V249.6" stroke="#111" stroke-width="1"/>
<rect x="545.5" y="235.2" width="4" height="9.4" fill="#378a72" stroke="#111" stroke-width="1"/>
<path d="M553.5 222.4V236.7" stroke="#111" stroke-width="1"/>
<rect x="551.5" y="224.3" width="4" height="11.6" fill="#378a72" stroke="#111" stroke-width="1"/>
<path d="M559.5 224.3V233.4" stroke="#111" stroke-width="1"/>
<rect x="557.5" y="224.3" width="4" height="9.1" fill="#cf505d" stroke="#111" stroke-width="1"/>
<path d="M565.5 226.2V238.9" stroke="#111" stroke-width="1"/>
<rect x="563.5" y="233.4" width="4" height="3.0" fill="#cf505d" stroke="#111" stroke-width="1"/>
<path d="M571.5 228.1V236.4" stroke="#111" stroke-width="1"/>
<rect x="569.5" y="232.3" width="4" height="4.1" fill="#378a72" stroke="#111" stroke-width="1"/>
<path d="M578.5 221.2V234.7" stroke="#111" stroke-width="1"/>
<rect x="576.5" y="224.3" width="4" height="8.3" fill="#378a72" stroke="#111" stroke-width="1"/>
<path d="M584.5 222.4V231.4" stroke="#111" stroke-width="1"/>
<rect x="582.5" y="224.3" width="4" height="2.2" fill="#cf505d" stroke="#111" stroke-width="1"/>
<path d="M590.5 224.3V235.6" stroke="#111" stroke-width="1"/>
<rect x="588.5" y="226.2" width="4" height="4.1" fill="#cf505d" stroke="#111" stroke-width="1"/>
<path d="M596.5 223.3V236.6" stroke="#111" stroke-width="1"/>
<rect x="594.5" y="224.4" width="4" height="6.0" fill="#378a72" stroke="#111" stroke-width="1"/>
<path d="M602.5 214.3V225.8" stroke="#111" stroke-width="1"/>
<rect x="600.5" y="224.5" width="4" height="1.0" fill="#111" stroke="#111" stroke-width="1"/>
<path d="M608.5 221.2V234.6" stroke="#111" stroke-width="1"/>
<rect x="606.5" y="223.4" width="4" height="2.1" fill="#378a72" stroke="#111" stroke-width="1"/>
<path d="M614.5 211.3V224.5" stroke="#111" stroke-width="1"/>
<rect x="612.5" y="212.3" width="4" height="11.1" fill="#378a72" stroke="#111" stroke-width="1"/>
<path d="M620.5 209.4V215.5" stroke="#111" stroke-width="1"/>
<rect x="618.5" y="212.3" width="4" height="2.0" fill="#cf505d" stroke="#111" stroke-width="1"/>
<path d="M626.5 203.1V214.3" stroke="#111" stroke-width="1"/>
<rect x="624.5" y="207.4" width="4" height="6.9" fill="#378a72" stroke="#111" stroke-width="1"/>
<path d="M632.5 206.1V218.4" stroke="#111" stroke-width="1"/>
<rect x="630.5" y="207.4" width="4" height="8.1" fill="#cf505d" stroke="#111" stroke-width="1"/>
<path d="M639.5 203.3V216.4" stroke="#111" stroke-width="1"/>
<rect x="637.5" y="203.3" width="4" height="12.2" fill="#378a72" stroke="#111" stroke-width="1"/>
<path d="M645.5 201.9V208.5" stroke="#111" stroke-width="1"/>
<rect x="643.5" y="203.1" width="4" height="1.0" fill="#111" stroke="#111" stroke-width="1"/>
<path d="M651.5 199.1V206.6" stroke="#111" stroke-width="1"/>
<rect x="649.5" y="201.4" width="4" height="3.0" fill="#378a72" stroke="#111" stroke-width="1"/>
<path d="M657.5 193.2V201.4" stroke="#111" stroke-width="1"/>
<rect x="655.5" y="197.5" width="4" height="3.9" fill="#378a72" stroke="#111" stroke-width="1"/>
<path d="M663.5 190.4V201.4" stroke="#111" stroke-width="1"/>
<rect x="661.5" y="197.5" width="4" height="2.8" fill="#cf505d" stroke="#111" stroke-width="1"/>
<path d="M669.5 187.4V205.2" stroke="#111" stroke-width="1"/>
<rect x="667.5" y="189.2" width="4" height="11.1" fill="#378a72" stroke="#111" stroke-width="1"/>
<path d="M675.5 179.2V208.5" stroke="#111" stroke-width="1"/>
<rect x="673.5" y="189.2" width="4" height="17.4" fill="#cf505d" stroke="#111" stroke-width="1"/>
<path d="M681.5 206.1V234.6" stroke="#111" stroke-width="1"/>
<rect x="679.5" y="206.1" width="4" height="24.4" fill="#cf505d" stroke="#111" stroke-width="1"/>
<path d="M687.5 204.4V232.4" stroke="#111" stroke-width="1"/>
<rect x="685.5" y="205.2" width="4" height="25.3" fill="#378a72" stroke="#111" stroke-width="1"/>
<path d="M693.5 202.4V218.1" stroke="#111" stroke-width="1"/>
<rect x="691.5" y="205.2" width="4" height="12.9" fill="#cf505d" stroke="#111" stroke-width="1"/>
<path d="M700.5 199.5V220.6" stroke="#111" stroke-width="1"/>
<rect x="698.5" y="201.4" width="4" height="17.0" fill="#378a72" stroke="#111" stroke-width="1"/>
<path d="M706.5 187.4V205.2" stroke="#111" stroke-width="1"/>
<rect x="704.5" y="195.3" width="4" height="6.1" fill="#378a72" stroke="#111" stroke-width="1"/>
<path d="M712.5 182.5V195.3" stroke="#111" stroke-width="1"/>
<rect x="710.5" y="183.5" width="4" height="11.8" fill="#378a72" stroke="#111" stroke-width="1"/>
<path d="M718.5 180.5V190.4" stroke="#111" stroke-width="1"/>
<rect x="716.5" y="183.5" width="4" height="6.1" fill="#cf505d" stroke="#111" stroke-width="1"/>
<path d="M724.5 172.3V190.4" stroke="#111" stroke-width="1"/>
<rect x="722.5" y="172.3" width="4" height="17.3" fill="#378a72" stroke="#111" stroke-width="1"/>
<path d="M730.5 166.2V174.4" stroke="#111" stroke-width="1"/>
<rect x="728.5" y="171.9" width="4" height="1.0" fill="#111" stroke="#111" stroke-width="1"/>
<path d="M736.5 169.3V179.7" stroke="#111" stroke-width="1"/>
<rect x="734.5" y="173.6" width="4" height="2.0" fill="#cf505d" stroke="#111" stroke-width="1"/>
<path d="M742.5 171.4V182.5" stroke="#111" stroke-width="1"/>
<rect x="740.5" y="175.6" width="4" height="4.9" fill="#cf505d" stroke="#111" stroke-width="1"/>
<path d="M748.5 175.2V183.5" stroke="#111" stroke-width="1"/>
<rect x="746.5" y="180.0" width="4" height="1.0" fill="#111" stroke="#111" stroke-width="1"/>
<path d="M754.5 177.2V198.6" stroke="#111" stroke-width="1"/>
<rect x="752.5" y="180.2" width="4" height="17.3" fill="#cf505d" stroke="#111" stroke-width="1"/>
<path d="M761.5 196.2V219.6" stroke="#111" stroke-width="1"/>
<rect x="759.5" y="197.5" width="4" height="6.9" fill="#cf505d" stroke="#111" stroke-width="1"/>
<path d="M767.5 202.3V214.6" stroke="#111" stroke-width="1"/>
<rect x="765.5" y="204.4" width="4" height="6.1" fill="#cf505d" stroke="#111" stroke-width="1"/>
<path d="M773.5 187.4V216.4" stroke="#111" stroke-width="1"/>
<rect x="771.5" y="191.5" width="4" height="19.0" fill="#378a72" stroke="#111" stroke-width="1"/>
<path d="M779.5 188.4V196.5" stroke="#111" stroke-width="1"/>
<rect x="777.5" y="191.5" width="4" height="3.0" fill="#cf505d" stroke="#111" stroke-width="1"/>
<path d="M785.5 188.3V200.5" stroke="#111" stroke-width="1"/>
<rect x="783.5" y="189.4" width="4" height="5.1" fill="#378a72" stroke="#111" stroke-width="1"/>
<path d="M791.5 184.5V197.4" stroke="#111" stroke-width="1"/>
<rect x="789.5" y="189.6" width="4" height="2.8" fill="#cf505d" stroke="#111" stroke-width="1"/>
<path d="M797.5 178.4V194.6" stroke="#111" stroke-width="1"/>
<rect x="795.5" y="180.4" width="4" height="12.0" fill="#378a72" stroke="#111" stroke-width="1"/>
<path d="M803.5 180.4V198.7" stroke="#111" stroke-width="1"/>
<rect x="801.5" y="180.4" width="4" height="16.2" fill="#cf505d" stroke="#111" stroke-width="1"/>
<path d="M809.5 191.3V199.5" stroke="#111" stroke-width="1"/>
<rect x="807.5" y="194.6" width="4" height="2.0" fill="#378a72" stroke="#111" stroke-width="1"/>
<path d="M815.5 193.3V219.2" stroke="#111" stroke-width="1"/>
<rect x="813.5" y="194.4" width="4" height="6.0" fill="#cf505d" stroke="#111" stroke-width="1"/>
<path d="M822.5 192.4V203.7" stroke="#111" stroke-width="1"/>
<rect x="820.5" y="196.6" width="4" height="3.8" fill="#378a72" stroke="#111" stroke-width="1"/>
<path d="M828.5 182.2V197.4" stroke="#111" stroke-width="1"/>
<rect x="826.5" y="184.2" width="4" height="12.4" fill="#378a72" stroke="#111" stroke-width="1"/>
<path d="M834.5 172.3V192.4" stroke="#111" stroke-width="1"/>
<rect x="832.5" y="184.2" width="4" height="1.0" fill="#111" stroke="#111" stroke-width="1"/>
<path d="M840.5 172.3V184.5" stroke="#111" stroke-width="1"/>
<rect x="838.5" y="177.3" width="4" height="7.2" fill="#378a72" stroke="#111" stroke-width="1"/>
<path d="M846.5 171.0V180.6" stroke="#111" stroke-width="1"/>
<rect x="844.5" y="172.3" width="4" height="5.0" fill="#378a72" stroke="#111" stroke-width="1"/>
<path d="M852.5 164.1V177.3" stroke="#111" stroke-width="1"/>
<rect x="850.5" y="172.3" width="4" height="2.0" fill="#cf505d" stroke="#111" stroke-width="1"/>
<path d="M858.5 164.4V174.3" stroke="#111" stroke-width="1"/>
<rect x="856.5" y="166.6" width="4" height="7.7" fill="#378a72" stroke="#111" stroke-width="1"/>
<path d="M864.5 157.3V167.7" stroke="#111" stroke-width="1"/>
<rect x="862.5" y="160.3" width="4" height="6.3" fill="#378a72" stroke="#111" stroke-width="1"/>
<path d="M870.5 149.2V161.6" stroke="#111" stroke-width="1"/>
<rect x="868.5" y="150.4" width="4" height="10.2" fill="#378a72" stroke="#111" stroke-width="1"/>
<path d="M876.5 144.3V151.7" stroke="#111" stroke-width="1"/>
<rect x="874.5" y="150.1" width="4" height="1.0" fill="#111" stroke="#111" stroke-width="1"/>
<path d="M882.5 149.1V164.7" stroke="#111" stroke-width="1"/>
<rect x="880.5" y="150.1" width="4" height="2.3" fill="#cf505d" stroke="#111" stroke-width="1"/>
<path d="M889.5 135.2V152.4" stroke="#111" stroke-width="1"/>
<rect x="887.5" y="140.2" width="4" height="12.2" fill="#378a72" stroke="#111" stroke-width="1"/>
<path d="M895.5 131.4V142.5" stroke="#111" stroke-width="1"/>
<rect x="893.5" y="132.3" width="4" height="8.2" fill="#378a72" stroke="#111" stroke-width="1"/>
<path d="M901.5 123.2V136.4" stroke="#111" stroke-width="1"/>
<rect x="899.5" y="124.3" width="4" height="8.0" fill="#378a72" stroke="#111" stroke-width="1"/>
<path d="M907.5 122.0V134.4" stroke="#111" stroke-width="1"/>
<rect x="905.5" y="124.3" width="4" height="8.0" fill="#cf505d" stroke="#111" stroke-width="1"/>
<path d="M913.5 128.1V142.5" stroke="#111" stroke-width="1"/>
<rect x="911.5" y="132.3" width="4" height="4.1" fill="#cf505d" stroke="#111" stroke-width="1"/>
<path d="M919.5 134.4V152.5" stroke="#111" stroke-width="1"/>
<rect x="917.5" y="136.4" width="4" height="5.8" fill="#cf505d" stroke="#111" stroke-width="1"/>
<path d="M925.5 135.2V146.5" stroke="#111" stroke-width="1"/>
<rect x="923.5" y="136.5" width="4" height="6.0" fill="#378a72" stroke="#111" stroke-width="1"/>
<path d="M931.5 123.2V136.5" stroke="#111" stroke-width="1"/>
<rect x="929.5" y="132.4" width="4" height="4.1" fill="#378a72" stroke="#111" stroke-width="1"/>
<path d="M937.5 126.4V135.6" stroke="#111" stroke-width="1"/>
<rect x="935.5" y="130.4" width="4" height="2.0" fill="#378a72" stroke="#111" stroke-width="1"/>
<path d="M943.5 120.1V140.6" stroke="#111" stroke-width="1"/>
<rect x="941.5" y="121.2" width="4" height="9.2" fill="#378a72" stroke="#111" stroke-width="1"/>
<path d="M950.5 112.5V121.2" stroke="#111" stroke-width="1"/>
<rect x="948.5" y="116.6" width="4" height="4.6" fill="#378a72" stroke="#111" stroke-width="1"/>
<path d="M956.5 111.4V124.4" stroke="#111" stroke-width="1"/>
<rect x="954.5" y="116.6" width="4" height="5.9" fill="#cf505d" stroke="#111" stroke-width="1"/>
<path d="M962.5 107.2V122.5" stroke="#111" stroke-width="1"/>
<rect x="960.5" y="111.3" width="4" height="11.2" fill="#378a72" stroke="#111" stroke-width="1"/>
<path d="M968.5 106.4V121.5" stroke="#111" stroke-width="1"/>
<rect x="966.5" y="111.3" width="4" height="7.0" fill="#cf505d" stroke="#111" stroke-width="1"/>
<path d="M974.5 101.4V118.3" stroke="#111" stroke-width="1"/>
<rect x="972.5" y="102.3" width="4" height="16.0" fill="#378a72" stroke="#111" stroke-width="1"/>
<path d="M980.5 100.3V112.2" stroke="#111" stroke-width="1"/>
<rect x="978.5" y="102.3" width="4" height="3.3" fill="#cf505d" stroke="#111" stroke-width="1"/>
<path d="M986.5 100.3V152.5" stroke="#111" stroke-width="1"/>
<rect x="984.5" y="105.6" width="4" height="45.8" fill="#cf505d" stroke="#111" stroke-width="1"/>
<path d="M992.5 121.2V151.4" stroke="#111" stroke-width="1"/>
<rect x="990.5" y="125.3" width="4" height="26.1" fill="#378a72" stroke="#111" stroke-width="1"/>
<path d="M998.5 117.4V149.6" stroke="#111" stroke-width="1"/>
<rect x="996.5" y="125.3" width="4" height="2.2" fill="#cf505d" stroke="#111" stroke-width="1"/>
</g>
<!-- trend lines -->
<path d="M401 262.7L992 92.2" stroke="#000" stroke-width="2.1" stroke-linecap="round"/>
<path d="M358.5 346.8L1089.5 143.1" stroke="#000" stroke-width="2.1" stroke-linecap="round"/>
</svg>

<!-- top bar -->
<div style="position:absolute;left:12.8px;top:6.2px;width:25.8px;height:25.8px;border-radius:50%;background:#a1775d"></div>
<div style="position:absolute;left:32px;top:2.3px;width:18.2px;height:15.2px;border-radius:7.6px;background:#e9394a"></div>
<div class="sep" style="left:194px;top:9px;height:20px"></div>
<div class="sep" style="left:241px;top:9px;height:20px"></div>
<div class="sep" style="left:287px;top:9px;height:20px"></div>
<div class="sep" style="left:467px;top:9px;height:20px"></div>
<div class="sep" style="left:642px;top:9px;height:20px"></div>
<div class="sep" style="left:1050px;top:9px;height:20px"></div>
<div style="position:absolute;left:1211px;top:5px;width:69px;height:28px;border-radius:14px;background:#2a2a2a"></div>
<svg width="1285" height="40" viewBox="0 0 1285 40">
<g class="ic" stroke-width="1.5">
 <circle cx="69.3" cy="18.3" r="5.2"/><path d="M73.2 22.2L77.3 26.2"/>
</g>
<g class="ic">
 <circle cx="170.4" cy="19.5" r="9.2"/><path d="M165.9 19.5H174.9M170.4 15V24"/>
 <!-- candles -->
 <rect x="258.2" y="12.6" width="4.6" height="12.4" rx=".6"/><path d="M260.5 9.5V12.6M260.5 25V28.4"/>
 <rect x="266.3" y="15.2" width="4.6" height="6.8" rx=".6"/><path d="M268.6 12.2V15.2M268.6 22V25.2"/>
 <!-- indicators -->
 <path d="M303.5 27.2V23.4H308.7V27.2M308.7 23.4V20.5H314.2V27.2M314.2 20.5V17.5H319.6V27.2H303.5"/>
 <path d="M303.3 16.6L308.2 11.9L312.7 15L320 10.1"/>
 <!-- chevron -->
 <path d="M409.2 17.6L412.8 20.6L416.4 17.6"/>
 <!-- grid -->
 <rect x="436.4" y="12" width="6" height="6" rx="1.6"/><rect x="445.6" y="12" width="6" height="6" rx="1.6"/>
 <rect x="436.4" y="20.3" width="6" height="6" rx="1.6"/><rect x="445.6" y="20.3" width="6" height="6" rx="1.6"/>
 <!-- alert -->
 <path d="M498.7 19.6A8.24 8.24 0 1 0 490.5 27.7"/><path d="M490.5 14.2V19.5H487"/>
 <path d="M481.1 13.6L484.7 9.7M496.3 9.7L499.8 13.5"/><path d="M492.3 25.4H500.8M496.5 21.2V29.8"/>
 <!-- replay -->
 <path d="M568.8 14.9V24.6L562.4 19.7Z"/><path d="M577 14.9V24.6L570.6 19.7Z"/>
 <!-- undo -->
 <path d="M663.2 14.2L659.2 18.6L663.2 22.8M659.4 18.6H666.6Q671.8 18.8 671.8 24"/>
 <!-- layout -->
 <rect x="924.3" y="11" width="18.4" height="16.6" rx="2.2"/>
 <path d="M1030.2 17.6L1033.9 20.6L1037.6 17.6"/>
 <!-- quick search -->
 <path d="M1070.4 11.4A7.3 7.3 0 1 0 1079.6 18.6"/><path d="M1077.8 23.8L1082.8 28.6"/>
 <path d="M1076.2 8.2L1071.8 14.8H1075L1075.2 20.4L1079.6 13.6H1076.6Z" fill="#fff"/>
 <!-- hexagon -->
 <path d="M1102.2 19L1107.1 10.3H1116.9L1121.8 19L1116.9 27.7H1107.1Z"/><circle cx="1112" cy="19" r="3.7"/>
 <!-- fullscreen -->
 <path d="M1142.3 16V13.2Q1142.3 11.4 1144.1 11.4H1146.8M1153.2 11.4H1155.9Q1157.7 11.4 1157.7 13.2V16M1157.7 21.8V24.6Q1157.7 26.4 1155.9 26.4H1153.2M1146.8 26.4H1144.1Q1142.3 26.4 1142.3 24.6V21.8"/>
 <!-- camera -->
 <path d="M1179 13.6H1182.2L1183.6 11.2H1191.2L1192.6 13.6H1195.8Q1197.6 13.6 1197.6 15.4V24.6Q1197.6 26.4 1195.8 26.4H1179Q1177.2 26.4 1177.2 24.6V15.4Q1177.2 13.6 1179 13.6Z"/><circle cx="1187.4" cy="19.6" r="4"/>
</g>
<g class="ic" style="stroke:#9a9a9a"><path d="M706.2 14.2L710.2 18.6L706.2 22.8M710 18.6H702.8Q697.6 18.8 697.6 24"/></g>
</svg>

<!-- left bar -->
<div style="position:absolute;left:9px;top:50px;width:34px;height:34px;border-radius:6px;background:#eeeeee"></div>
<div class="hsep" style="left:8px;top:358px;width:36px"></div>
<div class="hsep" style="left:8px;top:447px;width:36px"></div>
<div class="hsep" style="left:8px;top:612px;width:36px"></div>
<svg width="56" height="728" viewBox="0 0 56 728">
<g class="ic">
 <!-- cursor -->
 <path d="M19.4 59.6V73.8L22.9 70.7L25.6 76.4L28.3 75.1L25.7 69.6L30.3 69.2Z" stroke-width="1.4"/>
 <!-- line -->
 <circle cx="17.1" cy="113.7" r="1.9"/><circle cx="34.5" cy="96.3" r="1.9"/><path d="M18.5 112.3L33.1 97.7"/>
 <!-- hlines -->
 <path d="M15 133.5H36.5M15 139.6H34.4M15 145.6H36.5M17.3 151.7H36.5"/><circle cx="36.3" cy="139.6" r="1.9"/><circle cx="15.4" cy="151.7" r="1.9"/>
 <!-- pattern -->
 <path d="M20.6 174L24 177.8M26.2 178L31.2 174.2M19.8 174L17.5 187.2M18.5 187.8L23.6 180.6M26.4 180.4L34 185.6M32.8 174.8L35.2 184.6"/>
 <circle cx="20.2" cy="172.1" r="1.9"/><circle cx="32.5" cy="172.8" r="1.9"/><circle cx="24.9" cy="179.2" r="1.9"/><circle cx="17.1" cy="189.1" r="1.9"/><circle cx="35.6" cy="186.4" r="1.9"/>
 <!-- fib -->
 <path d="M18.2 210.5H36.3M18.2 221.3H33.1M18.2 227.5H36.3"/><circle cx="16.3" cy="210.5" r="1.8"/><circle cx="16.3" cy="221.3" r="1.8"/><circle cx="35" cy="221.3" r="1.8"/><circle cx="16.3" cy="227.5" r="1.8"/>
 <path d="M20 219.6L34.5 212.4" stroke-dasharray="1.2 2.2"/>
 <!-- brush -->
 <path d="M15 265.4L22.2 256.8Q26 253.6 29.2 256.6Q31.8 260.8 27.4 264.2Q22.4 266.4 15 265.4Z"/><path d="M30.4 250.8Q30.6 256.4 34.4 254.4L39.2 249.8"/>
 <!-- T -->
 <path d="M19.1 287.4H34.5M26.7 287.4V303.3M24 303.3H29.5"/>
 <!-- smiley -->
 <circle cx="25.7" cy="332.5" r="10.4"/><path d="M22 335.4Q25.7 339.6 29.4 335.4"/>
 <circle cx="22.7" cy="330.4" r=".7" fill="#1e1e1e"/><circle cx="28.8" cy="330.4" r=".7" fill="#1e1e1e"/>
 <!-- ruler -->
 <path d="M14.3 390.8L33 372.5L37.4 377.4L18.7 395.6Z"/><path d="M18 387.4L19.8 389.2M21.4 384L23.2 385.8M24.8 380.6L26.6 382.4M28.2 377.2L30 379M31.6 373.8L33.4 375.6" stroke-width="1"/>
 <!-- zoom -->
 <circle cx="24.6" cy="420" r="8"/><path d="M21 420H28.2M24.6 416.4V423.6M30.4 425.8L34 429.6"/>
 <!-- magnet -->
 <path d="M18 481.3V471.4A8.2 8.2 0 0 1 34.4 471.4V481.3H29V471.6A2.8 2.8 0 0 0 23.4 471.6V481.3Z"/><path d="M18 477.4H23.4M29 477.4H34.4"/>
 <!-- pencil + lock -->
 <path d="M15 516.4L16.4 511.2L26.6 501.6Q28.4 500.4 30 502.2Q31.4 503.8 30 505.4L19.8 515Z"/><path d="M24.6 503.6L28 507.2"/>
 <rect x="27.6" y="514.6" width="7.8" height="6.4" rx="1.2" fill="#fff"/><path d="M29.4 514.6V512.6Q29.6 510.4 31.6 510.4Q33.4 510.4 33.6 512"/>
 <circle cx="31.5" cy="517.8" r=".5" fill="#1e1e1e"/>
 <!-- lock -->
 <rect x="18" y="547.6" width="16" height="10.6" rx="2"/><path d="M21.6 547.6V544.2Q22 540 26 540Q29.6 540 30.4 543.4"/><path d="M26 551.6V553.6" stroke-width="1.8"/>
 <!-- eye -->
 <path d="M15.2 582.8Q19.6 576 24.9 576Q30.2 576 34.6 582.8Q30.2 589.6 24.9 589.6Q19.6 589.6 15.2 582.8Z"/><circle cx="24.9" cy="582.8" r="3.4"/>
 <path d="M27 597.8L29 594.8Q30.6 593.6 32 594.6Q32.6 596.2 31.2 597.2Q29.4 598 27 597.8ZM32.6 594.2L36 591.6" stroke-width="1"/>
 <!-- trash -->
 <path d="M17 632H35M22.4 632V629.6Q22.4 628.6 23.4 628.6H28.6Q29.6 628.6 29.6 629.6V632M19 632L20.8 645.6Q21 647 22.4 647H29.6Q31 647 31.2 645.6L33 632"/>
</g>
</svg>

<!-- right bar -->
<div class="hsep" style="left:1246px;top:629px;width:34px"></div>
<div style="position:absolute;left:1246px;top:583.8px;width:34px;height:34px;border-radius:50%;background:#262626"></div>
<svg width="1285" height="728" viewBox="0 0 1285 728">
<g class="ic">
 <path d="M1253.5 55.3H1272.7V77.5L1263.1 73.2L1253.5 77.5Z"/><path d="M1257.5 60.5H1268.7M1257.5 64.5H1268.7M1257.5 68.5H1268.7"/>
 <circle cx="1263.1" cy="111.8" r="10.7"/><path d="M1263.4 106.2V113H1257.8"/><path d="M1250.6 104.2L1256.2 99.6M1270 99.6L1275.6 104.2"/>
 <path d="M1251.5 155L1263 148.3L1274.5 155L1263 161.8Z"/><path d="M1251.5 160.6L1263 167.4L1274.5 160.6"/>
 <path d="M1255.4 208.2L1251.4 212.6V195.7Q1251.4 193.2 1253.9 193.2H1267.9Q1270.4 193.2 1270.4 195.7V205.7Q1270.4 208.2 1267.9 208.2Z"/><path d="M1270.4 200.8H1272Q1274.5 200.8 1274.5 203.3V216.2L1269.6 211.9H1263.2Q1260.9 211.9 1260.7 208.6"/>
 <circle cx="1262.8" cy="509.2" r="13.7"/><circle cx="1262.8" cy="509.2" r="7.8"/><circle cx="1262.8" cy="509.2" r="1.8" fill="#1e1e1e"/><path d="M1262.8 509.2L1273 499.4"/>
 <rect x="1251.4" y="545.4" width="23" height="21.4" rx="3.2"/><path d="M1251.4 552.3H1274.4"/><rect x="1255.6" y="543.2" width="3" height="5.2" rx="1.4" fill="#fff"/><rect x="1267.4" y="543.2" width="3" height="5.2" rx="1.4" fill="#fff"/>
 <circle cx="1254" cy="665.9" r="1.7"/><path d="M1252.3 658.6A9.3 9.3 0 0 1 1261.6 667.9M1252.3 652.7A15.2 15.2 0 0 1 1267.5 667.9M1252.3 646.7A21.2 21.2 0 0 1 1273.5 667.9"/>
 <path d="M1269.8 691.9A13.8 13.8 0 0 0 1249.6 707.6M1254.6 714.9A13.8 13.8 0 0 0 1276.3 700.4"/>
 <path d="M1259.4 700.4Q1259.6 697 1263 697Q1266.4 697 1266.4 700Q1266.4 702 1264.4 703.2Q1263 704.2 1263 706.4" /><circle cx="1263" cy="709.9" r="1.4"/>
 <path d="M1274.2 689.8L1275.3 692.7L1278.2 693.8L1275.3 694.9L1274.2 697.8L1273.1 694.9L1270.2 693.8L1273.1 692.7Z" stroke-width="1" fill="#fff"/>
 <path d="M1251.4 708.5L1252.3 710.6L1254.4 711.5L1252.3 712.4L1251.4 714.5L1250.5 712.4L1248.4 711.5L1250.5 710.6Z" stroke-width="1" fill="#fff"/>
</g>
<g fill="#fff"><rect x="1254.1" y="591.9" width="3.8" height="3.8"/><rect x="1261.1" y="591.9" width="3.8" height="3.8"/><rect x="1268.1" y="591.9" width="3.8" height="3.8"/><rect x="1254.1" y="598.9" width="3.8" height="3.8"/><rect x="1261.1" y="598.9" width="3.8" height="3.8"/><rect x="1268.1" y="598.9" width="3.8" height="3.8"/><rect x="1254.1" y="605.9" width="3.8" height="3.8"/><rect x="1261.1" y="605.9" width="3.8" height="3.8"/><rect x="1268.1" y="605.9" width="3.8" height="3.8"/></g>
</svg>

<!-- legend pill -->
<div style="position:absolute;left:64px;top:49.5px;width:20px;height:17px;background:#d3eee8;border-radius:8.5px 0 0 8.5px"></div>
<div style="position:absolute;left:84px;top:49.5px;width:19.5px;height:17px;background:#fbd8e2;border-radius:0 8.5px 8.5px 0"></div>
<div style="position:absolute;left:71px;top:54px;width:8px;height:8px;border-radius:50%;background:#1f9d7e"></div>
<div class="t" style="left:88px;top:49.5px;font-size:15px;font-weight:bold;color:#e0457b">≈</div>
<!-- collapse btn -->
<div style="position:absolute;left:64.5px;top:145px;width:28px;height:20.5px;border:1px solid #dcdcdc;border-radius:3px;background:#fff"></div>
<!-- price labels -->
<div class="lb" style="top:102px;height:17px;background:#2a62f0"></div>
<div class="lb" style="top:119px;height:30.5px;background:#ee3344"></div>
<div class="lb" style="top:152px;height:16.5px;background:#ee3344"></div>
<div class="lb" style="top:197px;height:17px;background:#2a62f0"></div>
<div class="lb" style="top:250.5px;height:17px;background:#2a62f0"></div>
<div class="lb" style="top:267.5px;height:16.5px;background:#2b2bd6;border-radius:0 0 2px 2px"></div>
<div class="lb" style="top:316px;height:16.5px;background:#2a62f0"></div>
<div class="lb" style="left:1116px;width:48px;top:119px;height:16.5px;background:#ee3344"></div>
<div class="lb" style="top:549.8px;height:16.8px;width:41px;background:#ea5550"></div>
<!-- time axis border + range sep -->
<div class="hsep" style="left:56px;top:647px;width:1180px;background:#e6e6e6"></div>
<div class="sep" style="left:332px;top:656px;height:22px"></div>
<svg width="1285" height="728" viewBox="0 0 1285 728">
<g class="ic">
 <path d="M75 157.2L78.5 154L82 157.2" stroke-width="1.6"/>
 <!-- time axis gear -->
 <path d="M1193.2 633L1196.7 627H1203.7L1207.2 633L1203.7 639H1196.7Z"/><circle cx="1200.2" cy="633" r="2.2"/>
 <!-- goto date -->
 <path d="M347.3 665.8V661.2Q347.3 659.2 349.3 659.2H362.6Q364.6 659.2 364.6 661.2V672.5Q364.6 674.5 362.6 674.5H356.2M347.3 663.9H364.6M352.5 657.2V661M359.5 657.2V661M346.3 671.4H353.5M350.2 668.2L353.8 671.4L350.2 674.6"/>
 <!-- bottom panel icons -->
 <path d="M1172.8 710.8L1181.4 704.4L1190 710.8" stroke-width="1.3"/>
 <path d="M1209.4 706V704.4Q1209.4 702 1211.8 702H1222Q1224.4 702 1224.4 704.4V706M1224.4 712V713.8Q1224.4 716.2 1222 716.2H1211.8Q1209.4 716.2 1209.4 713.8V712"/>
</g>
<!-- TradingView logo -->
<g stroke="#fff" stroke-width="4.2" stroke-linejoin="round" fill="#fff">
 <path d="M67.9 590.2H79.9V605H73.9V595.8H67.9Z"/><circle cx="85.1" cy="592.9" r="2.8"/><path d="M91.8 590.2H97.7L91.8 605H85.4Z"/>
</g>
<g fill="#131313">
 <path d="M67.9 590.2H79.9V605H73.9V595.8H67.9Z"/><circle cx="85.1" cy="592.9" r="2.8"/><path d="M91.8 590.2H97.7L91.8 605H85.4Z"/>
</g>
<text x="104.8" y="604.9" font-family="Liberation Sans, sans-serif" font-weight="bold" font-size="20.4" fill="#131313" stroke="#fff" stroke-width="4.2" stroke-linejoin="round" paint-order="stroke fill" textLength="121.5" lengthAdjust="spacingAndGlyphs">TradingView</text>
<!-- event icons -->
<defs><clipPath id="fc"><circle cx="0" cy="0" r="8.2"/></clipPath>
<g id="flag"><circle r="10.4" fill="#fff"/><circle r="9.2" fill="#fff" stroke="#dc4a4a" stroke-width="1.5"/>
<g clip-path="url(#fc)"><rect x="-8" y="-8" width="16" height="16" fill="#fff"/>
<rect x="-8" y="-7.8" width="16" height="2" fill="#e2524c"/><rect x="-8" y="-2.6" width="16" height="2.6" fill="#e2524c"/><rect x="-8" y="3.2" width="16" height="3.2" fill="#e2524c"/>
<rect x="-8" y="-7.4" width="9.8" height="8" fill="#4d8fe6"/>
<g fill="#d6e6fb"><rect x="-6.6" y="-5.8" width="1.1" height="1.1"/><rect x="-4.2" y="-5.8" width="1.1" height="1.1"/><rect x="-1.8" y="-5.8" width="1.1" height="1.1"/><rect x="-6.6" y="-3.6" width="1.1" height="1.1"/><rect x="-4.2" y="-3.6" width="1.1" height="1.1"/><rect x="-1.8" y="-3.6" width="1.1" height="1.1"/><rect x="-6.6" y="-1.4" width="1.1" height="1.1"/><rect x="-4.2" y="-1.4" width="1.1" height="1.1"/><rect x="-1.8" y="-1.4" width="1.1" height="1.1"/></g>
</g></g></defs>
<use href="#flag" x="1017.6" y="606.2"/><use href="#flag" x="1010.2" y="606.2"/><use href="#flag" x="998.4" y="606.2"/>
<circle cx="998.4" cy="581.3" r="10.8" fill="#fff"/><circle cx="998.4" cy="581.3" r="9.7" fill="#fff" stroke="#6a1b9a" stroke-width="1.3"/>
<path d="M1000.6 576.4L994.6 582.2H998.2L996.2 586.4L1002.2 580.4H998.6Z" fill="#6a1b9a" stroke="#6a1b9a" stroke-width=".6" stroke-linejoin="round"/>
<!-- corner magenta -->
<path d="M0 719.5L6.5 728H0Z" fill="#f3cfe6"/><path d="M0 722L4.6 728H0Z" fill="#a8357f"/><path d="M1285 719.5L1279 728H1285Z" fill="#ecc9df"/><path d="M1285 721.2L1280.3 728H1285Z" fill="#5c1142"/>
</svg>

<span class="t" id="t0" style="left:20.8px;top:11.4px;font-size:16.5px;font-weight:normal;color:#fff;letter-spacing:0.00px;">T</span>
<span class="t" id="t1" style="left:35.5px;top:5.5px;font-size:10px;font-weight:bold;color:#fff;letter-spacing:0.21px;">11</span>
<span class="t" id="t2" style="left:84.5px;top:13.8px;font-size:12.5px;font-weight:bold;color:#111;letter-spacing:0.29px;">NAS100</span>
<span class="t" id="t3" style="left:213.7px;top:11.8px;font-size:14px;font-weight:normal;color:#1a1a1a;letter-spacing:0.00px;">D</span>
<span class="t" id="t4" style="left:329.5px;top:11.8px;font-size:14px;font-weight:normal;color:#1a1a1a;letter-spacing:0.05px;">Indicators</span>
<span class="t" id="t5" style="left:509.4px;top:11.8px;font-size:14px;font-weight:normal;color:#1a1a1a;letter-spacing:0.28px;">Alert</span>
<span class="t" id="t6" style="left:587.0px;top:11.8px;font-size:14px;font-weight:normal;color:#1a1a1a;letter-spacing:-0.43px;">Replay</span>
<span class="t" id="t7" style="left:958.0px;top:7.5px;font-size:14px;font-weight:normal;color:#1a1a1a;letter-spacing:-0.39px;">Unnamed</span>
<span class="t" id="t8" style="left:977.0px;top:21.3px;font-size:10px;font-weight:normal;color:#3b64c4;letter-spacing:-0.62px;">Save</span>
<span class="t" id="t9" style="left:1223.5px;top:13.0px;font-size:13px;font-weight:bold;color:#fff;letter-spacing:-0.35px;">Publish</span>
<span class="t" id="t10" style="left:112.6px;top:52.5px;font-size:12px;font-weight:normal;color:#1a1a1a;letter-spacing:0.30px;">O24,756.87</span>
<span class="t" id="t11" style="left:185.4px;top:52.5px;font-size:12px;font-weight:normal;color:#1a1a1a;letter-spacing:0.37px;">H24,895.23</span>
<span class="t" id="t12" style="left:259.0px;top:52.5px;font-size:12px;font-weight:normal;color:#1a1a1a;letter-spacing:0.30px;">L24,272.65</span>
<span class="t" id="t13" style="left:329.2px;top:52.5px;font-size:12px;font-weight:normal;color:#1a1a1a;letter-spacing:0.36px;">C24,711.48</span>
<span class="t" id="t14" style="left:401.5px;top:52.5px;font-size:12px;font-weight:normal;color:#1a1a1a;letter-spacing:0.08px;">&minus;45.39</span>
<span class="t" id="t15" style="left:444.7px;top:52.5px;font-size:12px;font-weight:normal;color:#1a1a1a;letter-spacing:-0.13px;">(&minus;0.18%)</span>
<span class="t" id="t16" style="left:65.3px;top:76.8px;font-size:12px;font-weight:normal;color:#1a1a1a;letter-spacing:0.04px;">Vol</span>
<span class="t" id="t17" style="left:91.5px;top:76.8px;font-size:12px;font-weight:normal;color:#d2615f;letter-spacing:0.55px;">1.6M</span>
<span class="t" id="t18" style="left:65.3px;top:101.1px;font-size:12px;font-weight:normal;color:#1a1a1a;letter-spacing:-0.87px;background:rgba(255,255,255,.72);padding:2px 71px 2px 5px;margin:-2px 0 0 -5px;">EMA</span>
<span class="t" id="t19" style="left:97.1px;top:101.1px;font-size:12px;font-weight:normal;color:#c94f5c;letter-spacing:0.29px;">24,093.61</span>
<span class="t" id="t20" style="left:65.3px;top:125.4px;font-size:12px;font-weight:normal;color:#1a1a1a;letter-spacing:-0.87px;background:rgba(255,255,255,.72);padding:2px 67px 2px 5px;margin:-2px 0 0 -5px;">EMA</span>
<span class="t" id="t21" style="left:97.1px;top:125.4px;font-size:12px;font-weight:normal;color:#3f3aa8;letter-spacing:0.39px;">22,246.04</span>
<span class="t" id="t22" style="left:1173.4px;top:51.9px;font-size:12px;font-weight:normal;color:#1a1a1a;letter-spacing:-0.13px;z-index:1;">26,000.00</span>
<span class="t" id="t23" style="left:1173.4px;top:211.0px;font-size:12px;font-weight:normal;color:#1a1a1a;letter-spacing:-0.13px;z-index:1;">23,000.00</span>
<span class="t" id="t24" style="left:1173.4px;top:371.0px;font-size:12px;font-weight:normal;color:#1a1a1a;letter-spacing:-0.13px;z-index:1;">20,000.00</span>
<span class="t" id="t25" style="left:1173.4px;top:424.0px;font-size:12px;font-weight:normal;color:#1a1a1a;letter-spacing:-0.13px;z-index:1;">19,000.00</span>
<span class="t" id="t26" style="left:1173.4px;top:477.0px;font-size:12px;font-weight:normal;color:#1a1a1a;letter-spacing:-0.13px;z-index:1;">18,000.00</span>
<span class="t" id="t27" style="left:1173.4px;top:530.0px;font-size:12px;font-weight:normal;color:#1a1a1a;letter-spacing:-0.13px;z-index:1;">17,000.00</span>
<span class="t" id="t28" style="left:1173.4px;top:582.5px;font-size:12px;font-weight:normal;color:#1a1a1a;letter-spacing:-0.13px;z-index:1;">16,000.00</span>
<span class="t" id="t29" style="left:140.0px;top:627.5px;font-size:12px;font-weight:bold;color:#222;letter-spacing:-0.22px;">Apr</span>
<span class="t" id="t30" style="left:266.5px;top:627.5px;font-size:12px;font-weight:bold;color:#222;letter-spacing:-0.11px;">May</span>
<span class="t" id="t31" style="left:401.0px;top:627.5px;font-size:12px;font-weight:bold;color:#222;letter-spacing:-0.45px;">Jun</span>
<span class="t" id="t32" style="left:532.0px;top:627.5px;font-size:12px;font-weight:bold;color:#222;letter-spacing:-0.45px;">Jul</span>
<span class="t" id="t33" style="left:670.0px;top:627.5px;font-size:12px;font-weight:bold;color:#222;letter-spacing:-0.44px;">Aug</span>
<span class="t" id="t34" style="left:797.5px;top:627.5px;font-size:12px;font-weight:bold;color:#222;letter-spacing:-0.34px;">Sep</span>
<span class="t" id="t35" style="left:933.0px;top:627.5px;font-size:12px;font-weight:bold;color:#222;letter-spacing:-0.01px;">Oct</span>
<span class="t" id="t36" style="left:1072.0px;top:627.5px;font-size:12px;font-weight:bold;color:#222;letter-spacing:-0.22px;">Nov</span>
<span class="t" id="t37" style="left:70.5px;top:660.5px;font-size:14px;font-weight:normal;color:#1a1a1a;letter-spacing:-1.00px;">1D</span>
<span class="t" id="t38" style="left:98.5px;top:660.5px;font-size:14px;font-weight:normal;color:#1a1a1a;letter-spacing:-1.00px;">5D</span>
<span class="t" id="t39" style="left:126.5px;top:660.5px;font-size:14px;font-weight:normal;color:#1a1a1a;letter-spacing:-1.00px;">1M</span>
<span class="t" id="t40" style="left:155.5px;top:660.5px;font-size:14px;font-weight:normal;color:#1a1a1a;letter-spacing:-1.00px;">3M</span>
<span class="t" id="t41" style="left:184.5px;top:660.5px;font-size:14px;font-weight:normal;color:#1a1a1a;letter-spacing:-1.00px;">6M</span>
<span class="t" id="t42" style="left:213.5px;top:660.5px;font-size:14px;font-weight:normal;color:#1a1a1a;letter-spacing:-1.00px;">YTD</span>
<span class="t" id="t43" style="left:251.0px;top:660.5px;font-size:14px;font-weight:normal;color:#1a1a1a;letter-spacing:-1.00px;">1Y</span>
<span class="t" id="t44" style="left:278.0px;top:660.5px;font-size:14px;font-weight:normal;color:#1a1a1a;letter-spacing:-1.00px;">5Y</span>
<span class="t" id="t45" style="left:304.5px;top:660.5px;font-size:14px;font-weight:normal;color:#1a1a1a;letter-spacing:0.48px;">All</span>
<span class="t" id="t46" style="left:1142.0px;top:660.5px;font-size:14px;font-weight:normal;color:#1a1a1a;letter-spacing:-0.31px;">16:24:30 UTC</span>
<span class="t" id="t47" style="left:72.0px;top:702.5px;font-size:14px;font-weight:normal;color:#1a1a1a;letter-spacing:-0.04px;">Pine Editor</span>
<span class="t" id="t48" style="left:172.0px;top:702.5px;font-size:14px;font-weight:normal;color:#1a1a1a;letter-spacing:-0.20px;">Trading Panel</span>
<span class="t" id="t49" style="left:1173.2px;top:104.1px;font-size:12px;font-weight:bold;color:#fff;letter-spacing:-0.07px;z-index:3;">25,000.00</span>
<span class="t" id="t50" style="left:1173.2px;top:120.5px;font-size:12px;font-weight:bold;color:#fff;letter-spacing:0.01px;z-index:3;">24,711.48</span>
<span class="t" id="t51" style="left:1173.2px;top:134.6px;font-size:12px;font-weight:normal;color:#ffd0d4;letter-spacing:-0.24px;z-index:3;">04:35:29</span>
<span class="t" id="t52" style="left:1173.2px;top:153.7px;font-size:12px;font-weight:bold;color:#fff;letter-spacing:-0.07px;z-index:3;">24,093.61</span>
<span class="t" id="t53" style="left:1173.2px;top:199.1px;font-size:12px;font-weight:bold;color:#fff;letter-spacing:-0.07px;z-index:3;">23,250.00</span>
<span class="t" id="t54" style="left:1173.2px;top:252.4px;font-size:12px;font-weight:bold;color:#fff;letter-spacing:-0.07px;z-index:3;">22,250.00</span>
<span class="t" id="t55" style="left:1173.2px;top:269.1px;font-size:12px;font-weight:bold;color:#fff;letter-spacing:-0.07px;z-index:3;">22,246.04</span>
<span class="t" id="t56" style="left:1173.2px;top:317.8px;font-size:12px;font-weight:bold;color:#fff;letter-spacing:-0.07px;z-index:3;">21,000.00</span>
<span class="t" id="t57" style="left:1120.5px;top:121.5px;font-size:12px;font-weight:bold;color:#fff;letter-spacing:-0.98px;z-index:3;">NAS100</span>
<span class="t" id="t58" style="left:1173.5px;top:552.1px;font-size:12px;font-weight:bold;color:#fff;letter-spacing:0.20px;z-index:3;">1.6M</span>

</body></html>
